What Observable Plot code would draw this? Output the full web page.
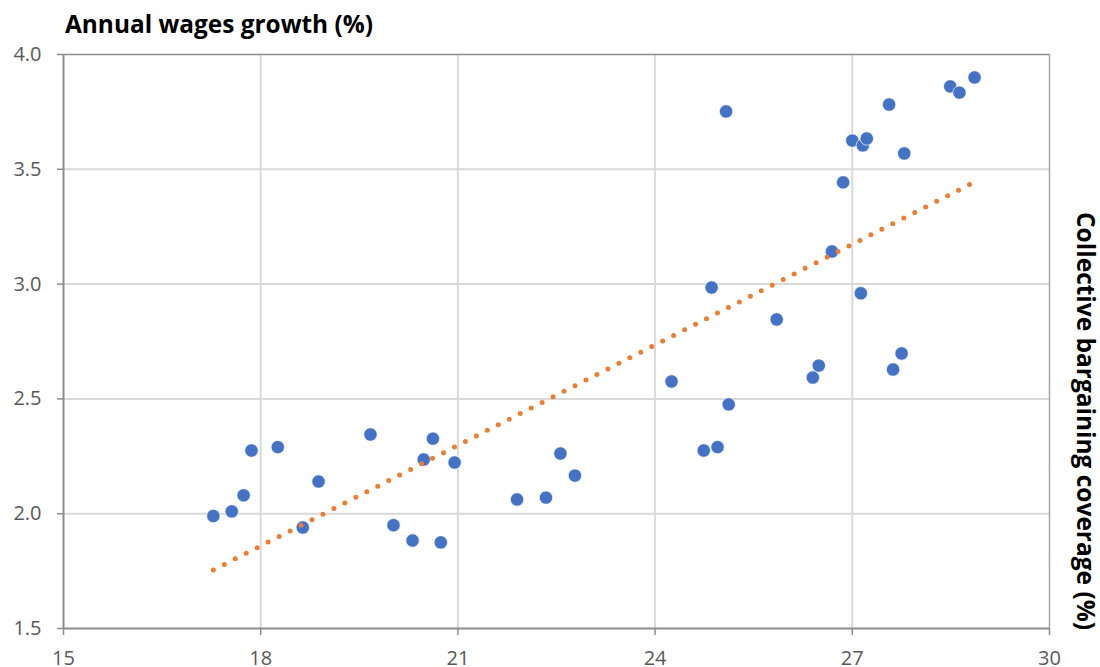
<!DOCTYPE html>
<html>
<head>
<meta charset="utf-8">
<script src="https://cdn.jsdelivr.net/npm/d3@7"></script>
<script src="https://cdn.jsdelivr.net/npm/@observablehq/plot@0.6"></script>
<style>
  body { margin: 0; background: #fff; }
  #chart { width: 1100px; height: 667px; overflow: hidden; }
</style>
</head>
<body>
<div id="chart"></div>
<script>
// Collective bargaining coverage (%) — horizontal position
const coverage = [17.28, 17.56, 17.74, 17.86, 18.26, 18.64, 18.88, 19.67, 20.02, 20.31,
                  20.48, 20.62, 20.74, 20.95, 21.90, 22.34, 22.56, 22.78, 24.25, 24.74,
                  24.86, 24.95, 25.08, 25.12, 25.85, 26.40, 26.49, 26.69, 26.86, 27.00,
                  27.13, 27.16, 27.22, 27.56, 27.62, 27.75, 27.79, 28.49, 28.63, 28.86];
// Annual wages growth (%) — vertical position
const wages = [1.990, 2.010, 2.080, 2.275, 2.290, 1.940, 2.140, 2.345, 1.950, 1.883,
               2.236, 2.327, 1.875, 2.223, 2.062, 2.070, 2.262, 2.166, 2.576, 2.275,
               2.985, 2.290, 3.752, 2.476, 2.846, 2.593, 2.645, 3.142, 3.443, 3.625,
               2.960, 3.604, 3.634, 3.782, 2.628, 2.698, 3.569, 3.861, 3.834, 3.900];
const xTicks = [15, 18, 21, 24, 27, 30];
const yTicks = [1.5, 2.0, 2.5, 3.0, 3.5, 4.0];
const titleText = "Annual wages growth (%)";
const sideText = "Collective bargaining coverage (%)";

const data = coverage.map((c, i) => ({coverage: c, wages: wages[i]}));

const chart = Plot.plot({
  width: 1100,
  height: 667,
  marginLeft: 63,
  marginRight: 51,
  marginTop: 54,
  marginBottom: 39,
  style: {fontFamily: "'Open Sans', sans-serif", fontSize: "20px", background: "#fff"},
  x: {domain: [15, 30]},
  y: {domain: [1.5, 4]},
  marks: [
    Plot.gridX(xTicks.filter(t => t > 15 && t < 30), {stroke: "#d9d9d9", strokeOpacity: 1, strokeWidth: 2}),
    Plot.gridY(yTicks.filter(t => t > 1.5 && t < 4), {stroke: "#d9d9d9", strokeOpacity: 1, strokeWidth: 2}),
    Plot.ruleX([30], {stroke: "#a6a6a6", strokeWidth: 1.5}),
    Plot.ruleY([4], {stroke: "#8c8c8c", strokeWidth: 1.5, x1: 15, x2: 30}),
    Plot.axisX(xTicks, {tickSize: 7, tickPadding: 15, stroke: "#8c8c8c", strokeWidth: 1.5,
                        fill: "#595959", fontSize: 20, label: null}),
    Plot.axisY(yTicks, {tickSize: 6, tickPadding: 16, stroke: "#8c8c8c", strokeWidth: 1.5,
                        fill: "#595959", fontSize: 20, label: null, tickFormat: d => d.toFixed(1)}),
    Plot.ruleX([15], {stroke: "#8c8c8c", strokeWidth: 2}),
    Plot.ruleY([1.5], {stroke: "#8c8c8c", strokeWidth: 2}),
    Plot.dot(data, {x: "coverage", y: "wages", r: 6.7, fill: "#4472C4", stroke: "#fff", strokeWidth: 0.7}),
    Plot.linearRegressionY(data, {x: "coverage", y: "wages", ci: 0, stroke: "#ED7D31",
                                  strokeWidth: 5, strokeDasharray: "0 12.3", strokeLinecap: "round"})
  ]
});

const svg = d3.select(chart);
svg.append("text")
  .attr("x", 65).attr("y", 33)
  .attr("text-anchor", "start")
  .attr("font-family", "'Open Sans', sans-serif")
  .attr("font-weight", "bold").attr("font-size", 25)
  .attr("fill", "#000")
  .attr("textLength", 308).attr("lengthAdjust", "spacingAndGlyphs")
  .text(titleText);
svg.append("text")
  .attr("transform", "translate(1077,212) rotate(90)")
  .attr("text-anchor", "start")
  .attr("font-family", "'Open Sans', sans-serif")
  .attr("font-weight", "bold").attr("font-size", 25)
  .attr("fill", "#000")
  .attr("textLength", 418).attr("lengthAdjust", "spacingAndGlyphs")
  .text(sideText);

document.getElementById("chart").appendChild(chart);
</script>
</body>
</html>
